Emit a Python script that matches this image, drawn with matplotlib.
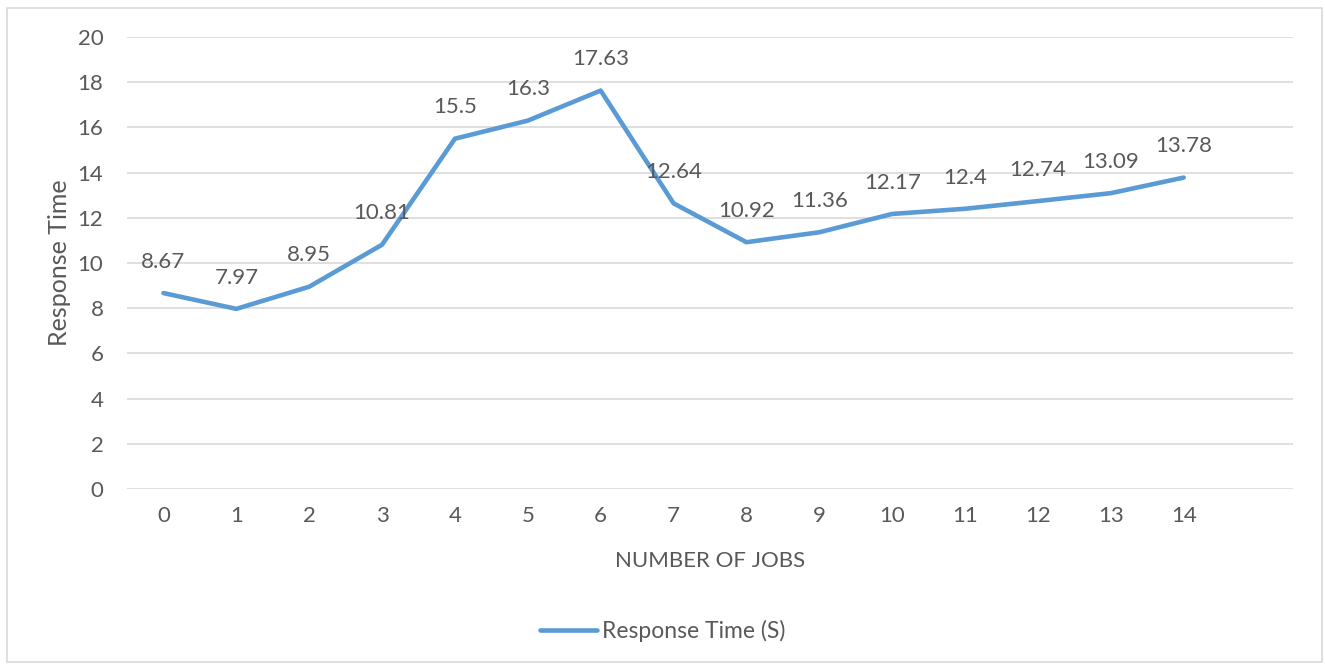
import matplotlib
matplotlib.use("Agg")
import matplotlib.pyplot as plt
from matplotlib.patches import Rectangle

jobs = list(range(15))
response_time = [8.67, 7.97, 8.95, 10.81, 15.5, 16.3, 17.63, 12.64,
                 10.92, 11.36, 12.17, 12.4, 12.74, 13.09, 13.78]
y_ticks = list(range(0, 21, 2))

text_color = "#595959"
grid_color = "#D9D9D9"
line_color = "#5B9BD5"
font = ["Lato", "DejaVu Sans"]

fig = plt.figure(figsize=(13.25, 6.64), dpi=100)
ax = fig.add_axes([127 / 1325, 1 - 489 / 664, (1293 - 127) / 1325, (489 - 37) / 664])

# outer chart border
fig.patches.append(Rectangle((7 / 1325, 1 - 662 / 664), (1322 - 7) / 1325, (662 - 8) / 664,
                             transform=fig.transFigure, fill=False,
                             edgecolor=grid_color, linewidth=1.2))

line, = ax.plot(jobs, response_time, color=line_color, linewidth=3.3,
                solid_capstyle="round", solid_joinstyle="round", zorder=3,
                label="Response Time (S)")

for x, y in zip(jobs, response_time):
    ax.annotate(f"{y:g}", (x, y), xytext=(0, 22.5), textcoords="offset points",
                ha="center", va="center", fontsize=16, color=text_color,
                family=font, zorder=4)

ax.set_xlim(-0.5, 15.5)
ax.set_ylim(0, 20)
ax.set_xticks(jobs)
ax.set_xticklabels([str(j) for j in jobs])
ax.set_yticks(y_ticks)
ax.grid(axis="y", color=grid_color, linewidth=1.2)
ax.set_axisbelow(True)
for s in ax.spines.values():
    s.set_visible(False)
ax.tick_params(length=0, labelsize=16, labelcolor=text_color)
ax.tick_params(axis="x", pad=12)
ax.tick_params(axis="y", pad=17)
for lbl in ax.get_xticklabels() + ax.get_yticklabels():
    lbl.set_family(font)

ax.set_xlabel("NUMBER OF JOBS", fontsize=16, color=text_color, family=font, labelpad=18.5)
ax.set_ylabel("Response Time", fontsize=18, color=text_color, family=font, labelpad=5)

leg = fig.legend(handles=[line], loc="center", bbox_to_anchor=(0.5, 1 - 631 / 664),
                 frameon=False, handlelength=2.5, handletextpad=0.2,
                 prop={"family": font, "size": 16.5})
for t in leg.get_texts():
    t.set_color(text_color)

fig.savefig("out.png", dpi=100)
